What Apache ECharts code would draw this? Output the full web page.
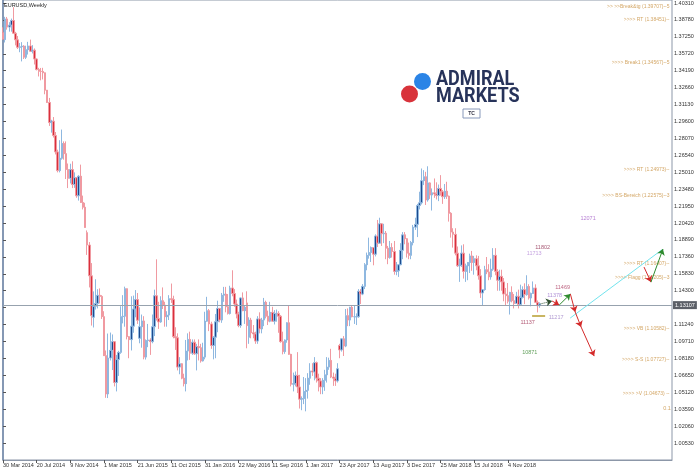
<!DOCTYPE html>
<html><head><meta charset="utf-8">
<script src="https://cdn.jsdelivr.net/npm/echarts@6/dist/echarts.min.js"></script>
<style>html,body{margin:0;padding:0;background:#fff}#c{width:700px;height:471px}</style>
</head><body><div id="c"></div>
<script>
// Weekly EURUSD candles, rows are [open, high, low, close]
const ohlc2014 = [
[1.3765,1.3811,1.3700,1.3704],[1.3700,1.3906,1.3674,1.3887],[1.3887,1.3905,1.3790,1.3813],[1.3813,1.3858,1.3772,1.3831],
[1.3831,1.3890,1.3772,1.3873],[1.3873,1.3993,1.3750,1.3757],[1.3757,1.3770,1.3648,1.3698],[1.3698,1.3733,1.3615,1.3630],
[1.3630,1.3670,1.3586,1.3635],[1.3635,1.3677,1.3503,1.3642],[1.3642,1.3650,1.3525,1.3541],[1.3541,1.3645,1.3525,1.3609],
[1.3609,1.3680,1.3565,1.3643],[1.3643,1.3700,1.3588,1.3595],[1.3595,1.3650,1.3575,1.3605],[1.3605,1.3620,1.3475,1.3525],
[1.3525,1.3530,1.3422,1.3429],[1.3429,1.3445,1.3367,1.3413],[1.3413,1.3444,1.3332,1.3412],[1.3412,1.3445,1.3340,1.3400],
[1.3400,1.3402,1.3206,1.3243],[1.3243,1.3245,1.3129,1.3132],[1.3132,1.3173,1.2920,1.2950],[1.2950,1.2975,1.2859,1.2963],
[1.2963,1.3000,1.2815,1.2833],[1.2833,1.2865,1.2662,1.2685],[1.2685,1.2705,1.2500,1.2516],[1.2516,1.2791,1.2500,1.2628],
[1.2628,1.2887,1.2615,1.2761],[1.2761,1.2780,1.2615,1.2669],[1.2669,1.2780,1.2440,1.2526],[1.2526,1.2580,1.2358,1.2446],
[1.2446,1.2578,1.2400,1.2525],[1.2525,1.2600,1.2358,1.2390],[1.2390,1.2500,1.2360,1.2452],[1.2452,1.2456,1.2270,1.2288],
[1.2288,1.2475,1.2245,1.2465],[1.2465,1.2570,1.2224,1.2228],[1.2228,1.2290,1.2165,1.2185],[1.2185,1.2225,1.2000,1.2002]
];
const ohlc2015 = [
[1.1955,1.1975,1.1754,1.1843],[1.1843,1.1870,1.1460,1.1565],[1.1565,1.1680,1.1115,1.1205],[1.1190,1.1424,1.1098,1.1290],
[1.1290,1.1534,1.1260,1.1315],[1.1315,1.1444,1.1270,1.1389],[1.1389,1.1451,1.1315,1.1379],[1.1379,1.1390,1.1175,1.1196],
[1.1196,1.1245,1.0840,1.0843],[1.0843,1.0890,1.0462,1.0497],[1.0497,1.1043,1.0460,1.0822],[1.0822,1.1052,1.0800,1.0891],
[1.0891,1.1035,1.0713,1.0970],[1.0970,1.0975,1.0565,1.0600],[1.0600,1.0850,1.0520,1.0808],[1.0808,1.0887,1.0660,1.0873],
[1.0873,1.1290,1.0860,1.1196],[1.1196,1.1390,1.1135,1.1200],[1.1200,1.1467,1.1105,1.1448],[1.1448,1.1450,1.0990,1.1015],
[1.1015,1.1020,1.0820,1.0988],[1.0988,1.1380,1.0890,1.1110],[1.1110,1.1386,1.1050,1.1265],[1.1265,1.1436,1.1190,1.1350],
[1.1350,1.1410,1.1130,1.1163],[1.1000,1.1280,1.0955,1.1105],[1.1105,1.1215,1.0915,1.1157],[1.1157,1.1200,1.0810,1.0830],
[1.0830,1.0990,1.0808,1.0980],[1.0980,1.1130,1.0920,1.0985],[1.0985,1.1000,1.0850,1.0970],[1.0970,1.1215,1.0955,1.1105],
[1.1105,1.1440,1.1020,1.1385],[1.1385,1.1714,1.1160,1.1180],[1.1180,1.1330,1.1085,1.1148],[1.1148,1.1380,1.1140,1.1340],
[1.1340,1.1460,1.1265,1.1300],[1.1300,1.1330,1.1105,1.1195],[1.1195,1.1245,1.1105,1.1210],[1.1210,1.1390,1.1165,1.1358],
[1.1358,1.1495,1.1320,1.1350],[1.1350,1.1385,1.1000,1.1015],[1.1015,1.1100,1.0895,1.1005],[1.1005,1.1045,1.0710,1.0740],
[1.0740,1.0830,1.0675,1.0770],[1.0770,1.0775,1.0630,1.0640],[1.0640,1.0680,1.0565,1.0590],[1.0590,1.0985,1.0520,1.0885],
[1.0885,1.1045,1.0800,1.0990],[1.0990,1.1060,1.0805,1.0865],[1.0865,1.0990,1.0850,1.0965],[1.0965,1.0990,1.0850,1.0860]
];
const ohlc2016 = [
[1.0860,1.0950,1.0710,1.0925],[1.0925,1.0990,1.0800,1.0915],[1.0915,1.0950,1.0780,1.0795],[1.0795,1.0960,1.0790,1.0830],
[1.0830,1.1240,1.0810,1.1155],[1.1155,1.1375,1.1150,1.1250],[1.1250,1.1265,1.1065,1.1130],[1.1130,1.1150,1.0905,1.0935],
[1.0935,1.1020,1.0810,1.1010],[1.1010,1.1220,1.0820,1.1150],[1.1150,1.1340,1.1055,1.1270],[1.1270,1.1275,1.1145,1.1165],
[1.1165,1.1410,1.1140,1.1390],[1.1390,1.1465,1.1330,1.1400],[1.1400,1.1465,1.1235,1.1285],[1.1285,1.1400,1.1215,1.1225],
[1.1225,1.1475,1.1215,1.1455],[1.1455,1.1615,1.1380,1.1405],[1.1405,1.1445,1.1285,1.1310],[1.1310,1.1350,1.1180,1.1220],
[1.1220,1.1240,1.1100,1.1115],[1.1115,1.1370,1.1095,1.1365],[1.1365,1.1415,1.1245,1.1250],[1.1250,1.1300,1.1130,1.1280],
[1.1320,1.1425,1.0910,1.1115],[1.1010,1.1190,1.0950,1.1165],[1.1165,1.1185,1.1000,1.1050],[1.1050,1.1120,1.1000,1.1040],
[1.1040,1.1060,1.0950,1.0975],[1.0975,1.1200,1.0950,1.1175],[1.1175,1.1235,1.1045,1.1085],[1.1085,1.1185,1.1045,1.1165],
[1.1165,1.1365,1.1110,1.1325],[1.1325,1.1340,1.1180,1.1200],[1.1200,1.1250,1.1120,1.1155],[1.1155,1.1330,1.1145,1.1235],
[1.1235,1.1285,1.1150,1.1155],[1.1155,1.1255,1.1125,1.1225],[1.1225,1.1260,1.1150,1.1225],[1.1225,1.1245,1.1050,1.1200],
[1.1200,1.1210,1.0960,1.0970],[1.0970,1.1060,1.0855,1.0880],[1.0880,1.0990,1.0860,1.0985],[1.0985,1.1145,1.0960,1.1140],
[1.1140,1.1300,1.0850,1.0855],[1.0855,1.0860,1.0565,1.0585],[1.0585,1.0690,1.0520,1.0590],[1.0590,1.0700,1.0565,1.0665],
[1.0665,1.0875,1.0505,1.0560],[1.0560,1.0670,1.0365,1.0450],[1.0450,1.0475,1.0350,1.0455],[1.0455,1.0650,1.0405,1.0520]
];
const ohlc2017 = [
[1.0520,1.0640,1.0340,1.0530],[1.0530,1.0685,1.0455,1.0640],[1.0640,1.0775,1.0580,1.0705],[1.0705,1.0775,1.0660,1.0695],
[1.0695,1.0830,1.0620,1.0780],[1.0780,1.0790,1.0600,1.0640],[1.0640,1.0680,1.0520,1.0615],[1.0615,1.0640,1.0495,1.0560],
[1.0560,1.0640,1.0495,1.0620],[1.0620,1.0715,1.0525,1.0670],[1.0670,1.0830,1.0600,1.0740],[1.0740,1.0825,1.0715,1.0800],
[1.0800,1.0905,1.0640,1.0650],[1.0650,1.0690,1.0570,1.0640],[1.0640,1.0680,1.0570,1.0615],[1.0615,1.0775,1.0600,1.0725],
[1.0935,1.0950,1.0820,1.0895],[1.0895,1.1000,1.0880,1.0995],[1.0995,1.1020,1.0840,1.0930],[1.0930,1.1265,1.0920,1.1205],
[1.1205,1.1270,1.1110,1.1165],[1.1165,1.1285,1.1110,1.1280],[1.1280,1.1295,1.1190,1.1195],[1.1195,1.1295,1.1130,1.1195],
[1.1195,1.1225,1.1120,1.1195],[1.1195,1.1445,1.1185,1.1425],[1.1425,1.1445,1.1310,1.1400],[1.1400,1.1490,1.1390,1.1470],
[1.1470,1.1680,1.1445,1.1665],[1.1665,1.1775,1.1615,1.1750],[1.1750,1.1910,1.1720,1.1775],[1.1775,1.1830,1.1690,1.1820],
[1.1820,1.1825,1.1660,1.1760],[1.1760,1.1940,1.1740,1.1925],[1.1925,1.2070,1.1825,1.1860],[1.1860,1.2090,1.1855,1.2035],
[1.2035,1.2040,1.1835,1.1945],[1.1945,1.2035,1.1860,1.1950],[1.1950,1.1970,1.1715,1.1815],[1.1815,1.1835,1.1670,1.1730],
[1.1730,1.1880,1.1720,1.1820],[1.1820,1.1860,1.1730,1.1785],[1.1785,1.1880,1.1575,1.1605],[1.1605,1.1690,1.1570,1.1610],
[1.1610,1.1670,1.1555,1.1665],[1.1665,1.1860,1.1660,1.1795],[1.1795,1.1960,1.1715,1.1935],[1.1935,1.1960,1.1850,1.1900],
[1.1900,1.1905,1.1730,1.1770],[1.1770,1.1865,1.1715,1.1750],[1.1750,1.1880,1.1715,1.1865],[1.1865,1.2025,1.1840,1.2005]
];
const ohlc2018 = [
[1.2005,1.2090,1.1980,1.2030],[1.2030,1.2215,1.1915,1.2200],[1.2200,1.2325,1.2165,1.2225],[1.2225,1.2535,1.2210,1.2425],
[1.2425,1.2520,1.2385,1.2460],[1.2460,1.2505,1.2205,1.2250],[1.2250,1.2555,1.2235,1.2405],[1.2405,1.2410,1.2260,1.2295],
[1.2295,1.2355,1.2155,1.2315],[1.2315,1.2445,1.2270,1.2305],[1.2305,1.2410,1.2255,1.2290],[1.2290,1.2390,1.2240,1.2355],
[1.2355,1.2475,1.2290,1.2325],[1.2325,1.2340,1.2215,1.2280],[1.2280,1.2395,1.2260,1.2330],[1.2330,1.2415,1.2260,1.2285],
[1.2285,1.2290,1.2055,1.2130],[1.2130,1.2140,1.1910,1.1960],[1.1960,1.1995,1.1820,1.1940],[1.1940,1.1995,1.1750,1.1770],
[1.1770,1.1830,1.1645,1.1655],[1.1655,1.1720,1.1510,1.1660],[1.1660,1.1840,1.1645,1.1770],[1.1770,1.1850,1.1540,1.1605],
[1.1605,1.1675,1.1510,1.1655],[1.1655,1.1690,1.1525,1.1685],[1.1685,1.1765,1.1590,1.1745],[1.1745,1.1790,1.1610,1.1685],
[1.1685,1.1745,1.1575,1.1720],[1.1720,1.1750,1.1615,1.1655],[1.1655,1.1745,1.1530,1.1565],[1.1565,1.1625,1.1365,1.1410],
[1.1410,1.1445,1.1300,1.1440],[1.1440,1.1655,1.1430,1.1620],[1.1620,1.1735,1.1580,1.1600],[1.1600,1.1670,1.1525,1.1555],
[1.1555,1.1720,1.1530,1.1625],[1.1625,1.1815,1.1610,1.1750],[1.1750,1.1815,1.1570,1.1605],[1.1605,1.1625,1.1430,1.1525],
[1.1525,1.1620,1.1430,1.1560],[1.1560,1.1620,1.1430,1.1510],[1.1510,1.1545,1.1335,1.1400],[1.1400,1.1455,1.1300,1.1385],
[1.1385,1.1500,1.1315,1.1335],[1.1335,1.1420,1.1215,1.1415],[1.1415,1.1470,1.1325,1.1340],[1.1340,1.1400,1.1270,1.1315],
[1.1315,1.1420,1.1310,1.1380],[1.1380,1.1440,1.1270,1.1305],[1.1305,1.1485,1.1300,1.1370],[1.1370,1.1470,1.1360,1.1440]
];
const ohlc2019 = [
[1.1440,1.1497,1.1309,1.1395],[1.1395,1.1570,1.1385,1.1468],[1.1468,1.1489,1.1350,1.1364],[1.1364,1.1413,1.1289,1.1406],
[1.1406,1.1514,1.1403,1.1455],[1.1455,1.1488,1.1320,1.1325],[1.1325,1.1342,1.1234,1.1295],[1.1295,1.1325,1.1276,1.13107]
];

// x-axis: weekly slots, a date label every 16 weeks
const dateTickLabels = ['30 Mar 2014','20 Jul 2014','9 Nov 2014','1 Mar 2015','21 Jun 2015','11 Oct 2015',
  '31 Jan 2016','22 May 2016','11 Sep 2016','1 Jan 2017','23 Apr 2017','13 Aug 2017','3 Dec 2017',
  '25 Mar 2018','15 Jul 2018','4 Nov 2018'];
const weeksPerLabel = 16;
const slotCount = 319;

// y-axis ticks
const yMin = 0.99, yMax = 1.4058, yStep = 0.0153;
const currentPrice = 1.13107;

// analyst levels on the right
const levelTexts = ['>> >>Break&tg (1.39707)--5','>>>> RT (1.38451)--','>>>> Break1 (1.34567)--5','>>>> RT (1.24973)--',
  '>>>> BS-Bereich (1.22575)--3','>>>> RT (1.16407)--','>>>> Flagg (1.15205)--3','>>>> VB (1.10582)--',
  '>>>> S-S (1.07727)--','>>>> >V (1.04673) --'];
const levelValues = [1.39707,1.38451,1.34567,1.24973,1.22575,1.16407,1.15205,1.10582,1.07727,1.04673];

// numeric notes: [week slot, price]
const noteTexts = ['11802','11713','12071','11469','11378','11217','11137','10871','0.1'];
const notePoints = [[256.5,1.1820],[252.5,1.1766],[278.1,1.2083],[266.0,1.1459],[262.2,1.1391],[262.9,1.1187],[249.4,1.1142],[250.4,1.0871],[315.6,1.0369]];

// forecast path points: [week slot, price]
const pathDotted = [[255.5,1.1311],[261.0,1.1337]];
const pathRedA = [[261.0,1.1337],[264.4,1.1301]];
const pathGreenA = [[264.4,1.1301],[269.7,1.1400]];
const pathRedDown = [[269.7,1.1400],[272.0,1.1237],[274.8,1.1102],[281.0,1.0839]];
const pathRedB = [[304.7,1.1644],[308.0,1.1508]];
const pathGreenB = [[308.0,1.1508],[313.7,1.1807]];
const pathCyan = [[269.6,1.1183],[313.2,1.1800]];
const supportMark = [[251.5,1.1201],[257.7,1.1201]];

const noteColors = ['#8e2b4d','#b58ad8','#a45ec8','#ad3d62','#9b73cc','#9c7fc6','#a13556','#3c8a34','#c8903e'];

const ohlc = [].concat(ohlc2014, ohlc2015, ohlc2016, ohlc2017, ohlc2018, ohlc2019);
const candleData = ohlc.map(r => [r[0], r[3], r[2], r[1]]);
const slots = Array.from({length: slotCount}, (_, i) => String(i));
const segs = pts => pts.slice(1).map((p, i) => ({coords: [pts[i], p]}));

const FONT = 'Liberation Sans';
const chart = echarts.init(document.getElementById('c'), null, {renderer: 'canvas'});

function linesSeries(data, color, opts) {
  return Object.assign({
    type: 'lines', coordinateSystem: 'cartesian2d', xAxisIndex: 1, yAxisIndex: 0,
    polyline: false, silent: true, z: 5,
    symbol: ['none', 'arrow'], symbolSize: 6,
    lineStyle: {color: color, width: 1, opacity: 1, curveness: 0},
    data: data
  }, opts || {});
}

chart.setOption({
  animation: false,
  backgroundColor: '#ffffff',
  title: {text: 'EURUSD,Weekly', left: 4, top: 2, padding: 0,
    textStyle: {fontSize: 5.5, fontWeight: 'normal', color: '#222', fontFamily: FONT}},
  grid: {left: 2, right: 28, top: 0, bottom: 11, show: true, borderColor: '#8c97a8', borderWidth: 1, backgroundColor: '#fff'},
  xAxis: [{
    type: 'category', data: slots, boundaryGap: false,
    axisLine: {show: true, lineStyle: {color: '#8c97a8'}},
    axisTick: {show: true, length: 3, lineStyle: {color: '#555'},
      interval: i => i % weeksPerLabel === 0 && i / weeksPerLabel < dateTickLabels.length},
    axisLabel: {show: true, fontSize: 5.5, color: '#333', fontFamily: FONT, margin: 2, align: 'left',
      interval: i => i % weeksPerLabel === 0 && i / weeksPerLabel < dateTickLabels.length,
      formatter: v => dateTickLabels[Number(v) / weeksPerLabel] || ''},
    splitLine: {show: false}
  }, {
    type: 'value', min: 0, max: slotCount - 1, show: false
  }],
  yAxis: {
    type: 'value', position: 'right', min: yMin, max: yMax, interval: yStep,
    axisLine: {show: true, lineStyle: {color: '#6f87aa', width: 1.5}},
    axisTick: {show: true, length: 3, lineStyle: {color: '#555'}},
    axisLabel: {fontSize: 5.5, color: '#333', fontFamily: FONT, margin: 2,
      showMinLabel: false, showMaxLabel: false, formatter: v => v.toFixed(5)},
    splitLine: {show: false}
  },
  graphic: [
    {type: 'circle', shape: {cx: 422.5, cy: 81.5, r: 8.5}, style: {fill: '#2b84e6'}},
    {type: 'circle', shape: {cx: 409.5, cy: 94, r: 8.5}, style: {fill: '#d8333b'}},
    {type: 'text', x: 436, y: 80, scaleX: 0.88, style: {text: 'ADMIRAL', font: 'bold 20.5px Roboto', fill: '#27335a', textVerticalAlign: 'middle'}},
    {type: 'text', x: 436, y: 97, scaleX: 0.88, style: {text: 'MARKETS', font: 'bold 20.5px Roboto', fill: '#27335a', textVerticalAlign: 'middle'}},
    {type: 'rect', shape: {x: 463, y: 109, width: 17, height: 9}, style: {fill: '#fff', stroke: '#8899bb', lineWidth: 1}},
    {type: 'text', x: 471.5, y: 113.5, style: {text: 'TC', font: 'bold 5px ' + FONT, fill: '#334', textAlign: 'center', textVerticalAlign: 'middle'}}
  ],
  series: [
    {
      type: 'candlestick', xAxisIndex: 0, yAxisIndex: 0, data: candleData, barWidth: 2,
      itemStyle: {color: '#1d4a8c', color0: '#d9303c', borderColor: '#8fb8e0', borderColor0: '#f09aa1', borderWidth: 1},
      markLine: {
        silent: true, symbol: 'none', animation: false,
        lineStyle: {color: '#97a2ae', type: 'solid', width: 1},
        label: {show: true, position: 'end', distance: 1, formatter: currentPrice.toFixed(5),
          backgroundColor: '#5c6068', color: '#fff', fontSize: 5.5, fontFamily: FONT, padding: [1, 2]},
        data: [{yAxis: currentPrice}]
      }
    },
    linesSeries([{coords: supportMark}], '#c9b562', {symbol: 'none', lineStyle: {color: '#c9b562', width: 2, opacity: 1}}),
    linesSeries([{coords: pathCyan}], '#72e4ee', {symbol: 'none'}),
    linesSeries(segs(pathDotted), '#2f7d2f', {lineStyle: {color: '#2f4f2f', width: 1, type: 'dotted', opacity: 1}}),
    linesSeries(segs(pathRedA), '#d42a2a'),
    linesSeries(segs(pathGreenA), '#2e8b2e'),
    linesSeries(segs(pathRedDown), '#d42a2a'),
    linesSeries(segs(pathRedB), '#d42a2a'),
    linesSeries(segs(pathGreenB), '#2e8b2e'),
    {
      type: 'scatter', xAxisIndex: 1, yAxisIndex: 0, silent: true, symbolSize: 1,
      itemStyle: {color: 'rgba(0,0,0,0)'},
      data: levelValues.map(v => [slotCount - 1, v]),
      label: {show: true, position: 'left', distance: 2, offset: [0, -3.5], color: '#c8903e', fontSize: 5, fontFamily: FONT,
        formatter: p => levelTexts[p.dataIndex]}
    },
    {
      type: 'scatter', xAxisIndex: 1, yAxisIndex: 0, silent: true, symbolSize: 1,
      itemStyle: {color: 'rgba(0,0,0,0)'},
      data: notePoints.map((p, i) => ({value: p, label: {color: noteColors[i]}})),
      label: {show: true, position: 'inside', fontSize: 5.5, fontFamily: FONT,
        formatter: p => noteTexts[p.dataIndex]}
    }
  ]
});
</script></body></html>
